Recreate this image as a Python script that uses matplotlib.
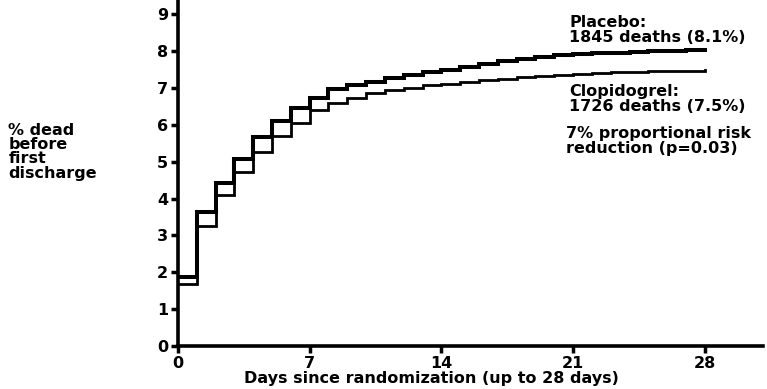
import matplotlib.pyplot as plt
import numpy as np

# days since randomization (step at each day)
days = list(range(0, 29))

# % dead before first discharge, value held from day i to day i+1
placebo = [1.87, 3.63, 4.43, 5.08, 5.67, 6.10, 6.46, 6.74, 6.98, 7.08,
           7.17, 7.26, 7.34, 7.42, 7.50, 7.58, 7.66, 7.73, 7.79, 7.84,
           7.88, 7.91, 7.94, 7.96, 7.98, 8.00, 8.01, 8.02, 8.03]
clopidogrel = [1.67, 3.25, 4.09, 4.71, 5.27, 5.70, 6.05, 6.41, 6.58, 6.73,
               6.85, 6.94, 7.01, 7.07, 7.12, 7.17, 7.21, 7.25, 7.29, 7.32,
               7.35, 7.38, 7.40, 7.42, 7.44, 7.45, 7.46, 7.47, 7.48]

xticks = [0, 7, 14, 21, 28]
yticks = list(range(0, 10))

plt.rcParams['font.family'] = ['DejaVu Sans']
plt.rcParams['font.weight'] = 'bold'
fs = 11.5

fig = plt.figure(figsize=(7.67, 3.89), dpi=100)
ax = fig.add_axes([0.232, 0.1105, 0.763, 0.889])

ax.step(days, placebo, where='post', color='black', lw=2.9, solid_joinstyle='miter')
ax.step(days, clopidogrel, where='post', color='black', lw=2.0, solid_joinstyle='miter')

ax.set_xlim(0, 31.1)
ax.set_ylim(0, 9.38)
ax.set_xticks(xticks)
ax.set_yticks(yticks)
ax.tick_params(axis='both', direction='out', length=5, width=2.5, labelsize=fs, pad=2)
for lbl in ax.get_xticklabels() + ax.get_yticklabels():
    lbl.set_fontweight('bold')

for s in ['top', 'right']:
    ax.spines[s].set_visible(False)
for s in ['left', 'bottom']:
    ax.spines[s].set_linewidth(2.6)

ax.set_xlabel('Days since randomization (up to 28 days)', fontsize=fs, fontweight='bold')
ax.xaxis.set_label_coords(0.434, -0.071)

fig.text(0.011, 0.685, '% dead\nbefore\nfirst\ndischarge', fontsize=fs, fontweight='bold',
         ha='left', va='top', linespacing=0.95)

ax.text(20.8, 8.98, 'Placebo:\n1845 deaths (8.1%)', fontsize=fs, fontweight='bold',
        ha='left', va='top', linespacing=1.0)
ax.text(20.8, 7.12, 'Clopidogrel:\n1726 deaths (7.5%)', fontsize=fs, fontweight='bold',
        ha='left', va='top', linespacing=1.0)
ax.text(20.64, 5.97, '7% proportional risk\nreduction (p=0.03)', fontsize=fs, fontweight='bold',
        ha='left', va='top', linespacing=1.02, clip_on=False)

fig.savefig('out.png', dpi=100)
